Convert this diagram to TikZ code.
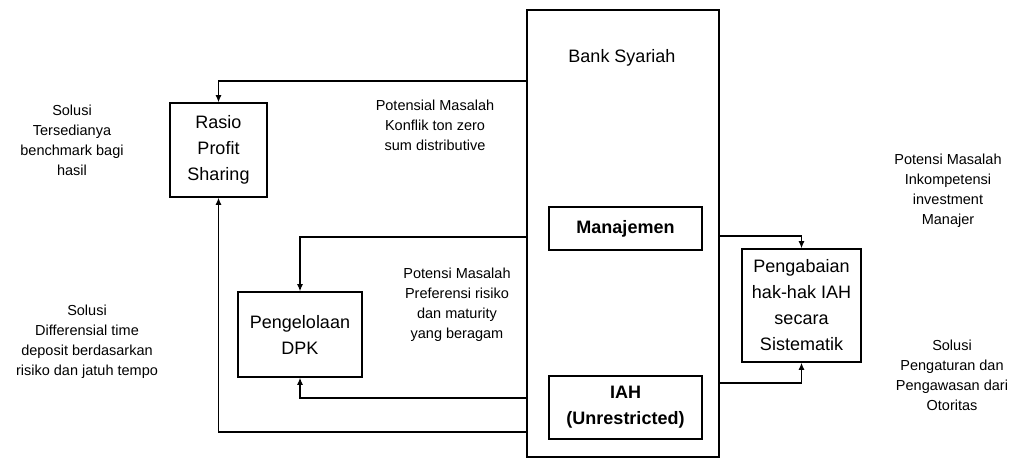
\documentclass[tikz,border=0pt]{standalone}
\usepackage{fontspec}
\setmainfont{Liberation Sans}
\usetikzlibrary{arrows.meta}
\begin{document}
\begin{tikzpicture}[x=1pt,y=-1pt,
  box/.style={draw,line width=1.6pt,rectangle,inner sep=0pt,align=center,
    font=\fontsize{18}{26}\selectfont},
  bigtxt/.style={inner sep=0pt,align=center,font=\fontsize{18}{26}\selectfont},
  small/.style={inner sep=0pt,align=center,font=\fontsize{14.5}{20}\selectfont},
  conn/.style={line width=1.1pt,-{Latex[length=7pt,width=6pt]}}]
\useasboundingbox (0,0) rectangle (1017,459);
% main boxes
\node[box,minimum width=192pt,minimum height=447pt] (bank) at (623,233.5) {};
\node[bigtxt] (banklbl) at (622,58) {Bank Syariah};
\node[box,minimum width=97pt,minimum height=94pt] (rasio) at (218.5,150) {Rasio\\Profit\\Sharing};
\node[box,minimum width=124pt,minimum height=85pt] (dpk) at (300,334.5) {Pengelolaan\\DPK};
\node[box,minimum width=153pt,minimum height=43pt,font=\fontsize{18}{26}\selectfont\bfseries] (mgmt) at (625.5,228.5) {Manajemen};
\node[box,minimum width=153pt,minimum height=63pt,font=\fontsize{18}{26}\selectfont\bfseries] (iah) at (625.5,407.5) {IAH\\(Unrestricted)};
\node[box,minimum width=119pt,minimum height=113pt] (peng) at (801.5,305.5) {Pengabaian\\hak-hak IAH\\secara\\Sistematik};
% side texts
\node[small] (t1) at (72,140) {Solusi\\Tersedianya\\benchmark bagi\\hasil};
\node[small] (t2) at (435,125) {Potensial Masalah\\Konflik ton zero\\sum distributive};
\node[small] (t3) at (457,305) {Potensi Masalah\\Preferensi risiko\\dan maturity\\yang beragam};
\node[small] (t4) at (87,342) {Solusi\\Differensial time\\deposit berdasarkan\\risiko dan jatuh tempo};
\node[small] (t5) at (948,191) {Potensi Masalah\\Inkompetensi\\investment\\Manajer};
\node[small] (t6) at (952,375) {Solusi\\Pengaturan dan\\Pengawasan dari\\Otoritas};
% connector levels
\coordinate (y1) at (0,81);
\coordinate (y2) at (0,432);
\coordinate (y3) at (0,237);
\coordinate (y4) at (0,398);
\coordinate (y5) at (0,236);
\coordinate (y6) at (0,383);
\draw[conn] (bank.west |- y1) -| (rasio.north);
\draw[conn] (bank.west |- y2) -| (rasio.south);
\draw[conn] (bank.west |- y3) -| (dpk.north);
\draw[conn] (bank.west |- y4) -| (dpk.south);
\draw[conn] (bank.east |- y5) -| (peng.north);
\draw[conn] (bank.east |- y6) -| (peng.south);
\end{tikzpicture}
\end{document}
